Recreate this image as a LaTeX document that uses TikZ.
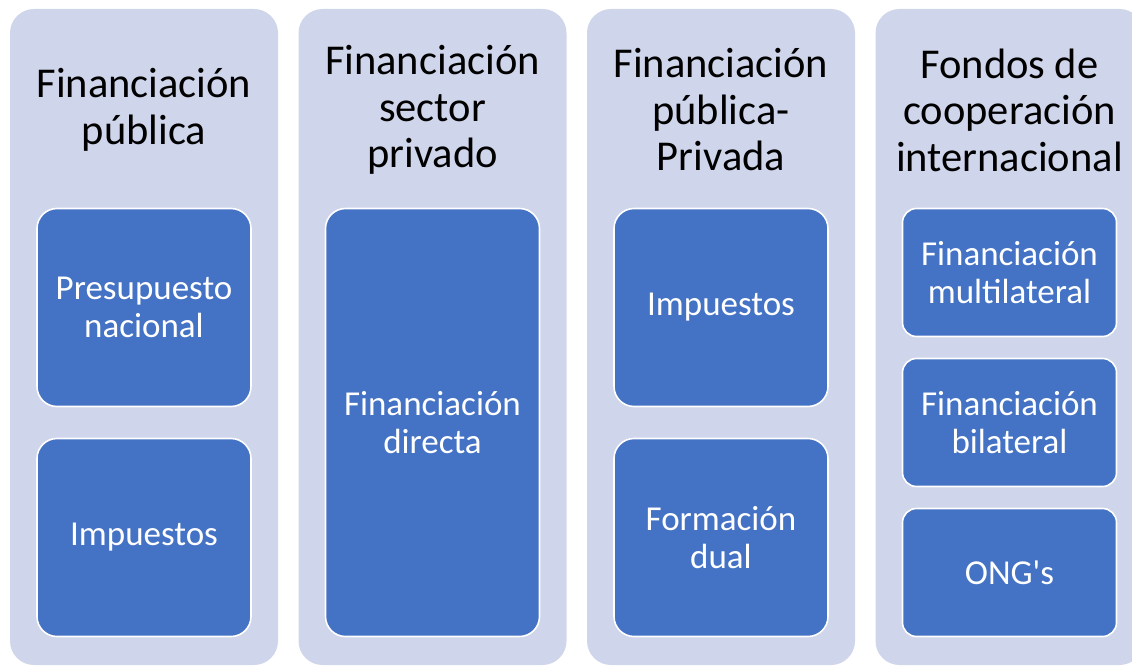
\documentclass[tikz,border=0pt]{standalone}
\usepackage{fontspec}
\setmainfont{Carlito}[Ligatures=TeXOff]
\usetikzlibrary{math}
\definecolor{panelbg}{HTML}{CFD5EA}
\definecolor{itemblue}{HTML}{4472C4}

\begin{document}
\begin{tikzpicture}
[x=1pt,y=-1pt,
panel/.style={fill=panelbg,rounded corners=24pt,minimum width=268pt,minimum height=656pt,inner sep=0pt},
item/.style={draw=white,line width=1.6pt,fill=itemblue,text=white,rounded corners=20pt,minimum width=214pt,inner sep=0pt,align=center,font=\fontsize{35}{38}\selectfont},
smallitem/.style={item,rounded corners=14pt,minimum height=128pt},
heading/.style={align=center,font=\fontsize{42.5}{46.5}\selectfont},]

\clip (0,0) rectangle (1132,666);

%Column centres and rows
\tikzmath{\ca = 144; \cb = 432.5; \cc = 721; \cd = 1009.5; \ymid = 337; \yhead = 110;}
%
%Background panels
\node (P1) at (\ca,\ymid)[panel] {};
\node (P2) at (\cb,\ymid)[panel] {};
\node (P3) at (\cc,\ymid)[panel] {};
\node (P4) at (\cd,\ymid)[panel] {};

%Headings
\node (H1) at (\ca,\yhead)[heading] {Financiación\\pública};
\node (H2) at (\cb,\yhead)[heading] {Financiación\\sector\\privado};
\node (H3) at (\cc,\yhead)[heading] {Financiación\\pública-\\Privada};
\node (H4) at (\cd,\yhead)[heading] {Fondos de\\cooperación\\internacional};

%Items
\node (presupuesto) at (\ca,307.5)[item,minimum height=198pt] {Presupuesto\\nacional};
\node (impuestosA) at (\ca,537.5)[item,minimum height=198pt] {Impuestos};
\node (directa) at (\cb,422.5)[item,minimum height=428pt] {Financiación\\directa};
\node (impuestosB) at (\cc,307.5)[item,minimum height=198pt] {Impuestos};
\node (dual) at (\cc,537.5)[item,minimum height=198pt] {Formación\\dual};
\node (multilateral) at (\cd,272.5)[smallitem] {Financiación\\multilateral};
\node (bilateral) at (\cd,422.5)[smallitem] {Financiación\\bilateral};
\node (ong) at (\cd,572.5)[smallitem] {ONG's};

\end{tikzpicture}
\end{document}
